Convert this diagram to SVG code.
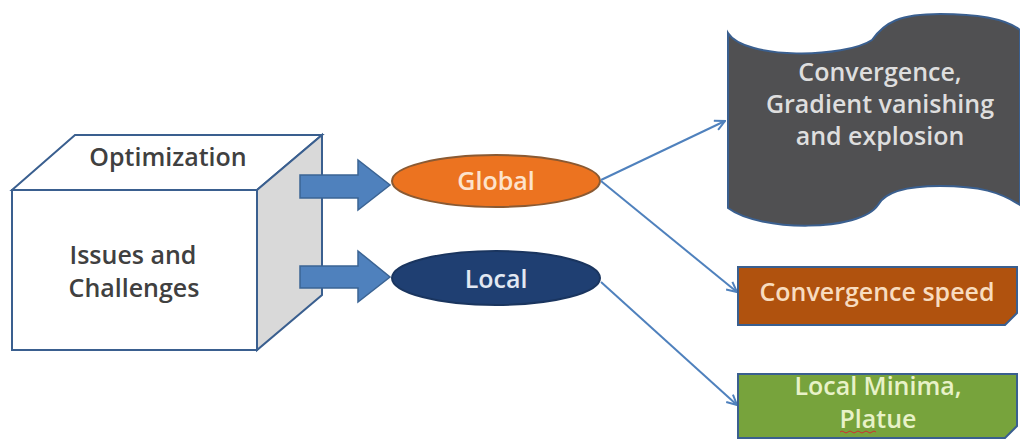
<svg xmlns="http://www.w3.org/2000/svg" width="1020" height="439" viewBox="0 0 1020 439">
<defs>
<style>
text{font-family:"Open Sans","Liberation Sans",sans-serif;text-anchor:middle;font-weight:600;font-size:25px}
.dark{fill:#404040}
.conn{stroke:#4f81bd;stroke-width:2;fill:none;marker-end:url(#ah)}
.blk{fill:#4f81bd;stroke:#3b6494;stroke-width:1.5}
</style>
<marker id="ah" viewBox="0 0 12 12" refX="11" refY="6" markerWidth="12" markerHeight="12" markerUnits="userSpaceOnUse" orient="auto">
<path d="M1,1 L11,6 L1,11" fill="none" stroke="#4f81bd" stroke-width="2"/>
</marker>
</defs>
<rect width="1020" height="439" fill="#ffffff"/>
<g id="cube">
<polygon points="12,190 75,135 322,135 257,190" fill="#ffffff" stroke="#3a5f8f" stroke-width="2"/>
<polygon points="257,190 322,135 322,295 257,350" fill="#d9d9d9" stroke="#3a5f8f" stroke-width="2"/>
<rect x="12" y="190" width="245" height="160" fill="#ffffff" stroke="#3a5f8f" stroke-width="2"/>
<text class="dark" x="168" y="166">Optimization</text>
<text class="dark"><tspan x="133" y="264">Issues and</tspan><tspan x="134" y="297">Challenges</tspan></text>
</g>
<g id="arrows-block">
<polygon class="blk" points="300,175 358,175 358,160 390,185 358,210 358,198 300,198"/>
<polygon class="blk" points="300,266 358,266 358,251 390,277 358,302 358,288 300,288"/>
</g>
<g id="global">
<ellipse cx="496" cy="181" rx="104" ry="26" fill="#ec7320" stroke="#8a5a33" stroke-width="2"/>
<text x="496" y="190" fill="#fde3cc">Global</text>
</g>
<g id="local">
<ellipse cx="496" cy="278" rx="104" ry="27" fill="#1f3f72" stroke="#1a355f" stroke-width="2"/>
<text x="496" y="288" fill="#e2e8f2">Local</text>
</g>
<g id="connectors">
<path class="conn" d="M601,180 L725,121"/>
<path class="conn" d="M601,181 L737,292"/>
<path class="conn" d="M601,282 L737,405"/>
</g>
<g id="wave">
<path d="M728,33 C745,60 845,58 872,40 C885,22 900,14 940,14 C990,14 1010,22 1020,30 L1020,205 C1000,192 980,186 940,186 C905,186 885,192 878,205 C860,232 760,232 728,208 Z" fill="#505052" stroke="#3a5f8f" stroke-width="2"/>
<text fill="#dedede"><tspan x="880" y="81">Convergence,</tspan><tspan x="880" y="113">Gradient vanishing</tspan><tspan x="880" y="145">and explosion</tspan></text>
</g>
<g id="speed">
<path d="M738,267 L1017,267 L1017,313 L1005,325 L738,325 Z" fill="#b0520e" stroke="#3a5f8f" stroke-width="2"/>
<text x="877" y="301" fill="#f8dcbf">Convergence speed</text>
</g>
<g id="minima">
<path d="M738,374 L1017,374 L1017,426 L1005,438 L738,438 Z" fill="#77a33c" stroke="#3a5f8f" stroke-width="2"/>
<text fill="#e8f2c8" font-size="24"><tspan x="878" y="395">Local Minima,</tspan><tspan x="878" y="428">Platue</tspan></text>
<path d="M840,432 q2,-2 4,0 t4,0 t4,0 t4,0 t4,0 t4,0 t4,0 t4,0 t4,0" fill="none" stroke="#d03030" stroke-width="1"/>
</g>
</svg>
